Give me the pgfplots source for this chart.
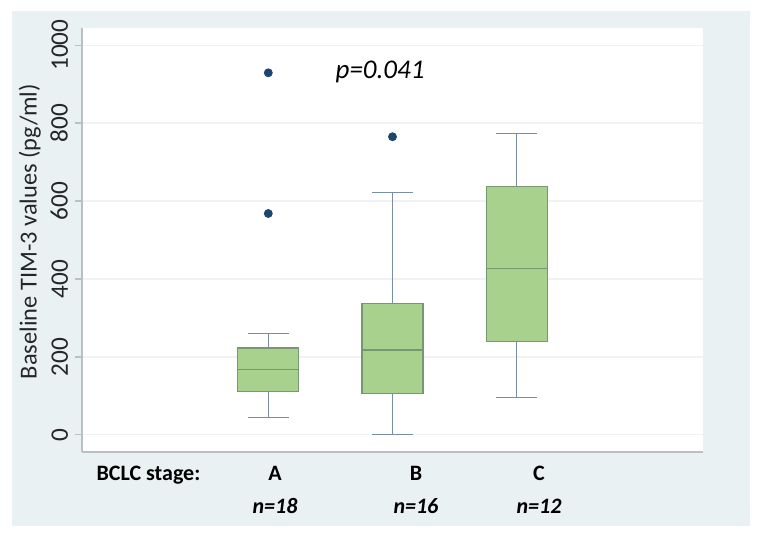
\documentclass[border=0pt]{standalone}
\usepackage{fontspec}
\setmainfont{Carlito}
\usepackage{pgfplots}
\pgfplotsset{compat=1.18}
\usepgfplotslibrary{statistics}
\usetikzlibrary{calc,backgrounds}
\definecolor{panel}{HTML}{EAF1F3}
\definecolor{boxfill}{HTML}{A9D18E}
\definecolor{boxline}{HTML}{769770}
\definecolor{whisk}{HTML}{7A8DA6}
\definecolor{dot}{HTML}{1A476F}
\definecolor{gridc}{HTML}{F0F3F5}
\definecolor{axc}{HTML}{B9BFC3}

\begin{document}
\begin{tikzpicture}
\begin{axis}[
  scale only axis, width=310.5pt, height=212pt,
  xmin=-0.5, xmax=4.5, ymin=-44, ymax=1044,
  clip=false,
  axis x line*=bottom, axis y line*=left,
  axis line style={draw=axc, line width=0.7pt, -},
  axis background/.style={fill=white},
  ytick={0,200,...,1000},
  ymajorgrids, grid style={gridc, line width=0.6pt},
  tick align=outside, major tick length=3.5pt,
  ytick style={draw=axc, line width=0.6pt},
  xtick=\empty,
  /pgf/number format/assume math mode=true,
  /pgf/number format/set thousands separator={},
  yticklabel style={rotate=90, anchor=south, font=\fontsize{12.6}{15}\selectfont, text=black!85},
  ylabel={Baseline TIM-3 values (pg/ml)},
  ylabel style={at={(axis description cs:-0.073,0.52)}, anchor=base, font=\fontsize{12.2}{15}\selectfont, text=black!85},
  boxplot/draw direction=y,
  boxplot/box extend=0.49,
  boxplot/every box/.style={fill=boxfill, draw=boxline, line width=0.6pt},
  boxplot/every median/.style={draw=boxline, line width=0.6pt},
  boxplot/every whisker/.style={draw=whisk, line width=0.55pt},
]
% stage A
\addplot[draw=whisk, mark=*, mark size=2pt, mark options={draw=dot, fill=dot},
  boxplot prepared={draw position=1, lower whisker=44, lower quartile=111,
    median=168, upper quartile=223, upper whisker=261, whisker extend=0.33}]
  table[row sep=\\, y index=0] {data\\ 929\\ 568\\};
% stage B
\addplot[draw=whisk, mark=*, mark size=2pt, mark options={draw=dot, fill=dot},
  boxplot prepared={draw position=2, lower whisker=1, lower quartile=107,
    median=218, upper quartile=338, upper whisker=621, whisker extend=0.33}]
  table[row sep=\\, y index=0] {data\\ 765\\};
% stage C
\addplot[draw=whisk,
  boxplot prepared={draw position=3, lower whisker=97, lower quartile=239,
    median=427, upper quartile=638, upper whisker=774, whisker extend=0.33}]
  coordinates {};

\node[font=\itshape\fontsize{13.5}{16}\selectfont] at (axis cs:1.9,931) {p=0.041};

\node[anchor=base, font=\bfseries\fontsize{11}{13}\selectfont] at (axis cs:0.035,-118) {BCLC stage:};
\node[anchor=base, font=\bfseries\fontsize{11}{13}\selectfont] at (axis cs:1.054,-118) {A};
\node[anchor=base, font=\bfseries\fontsize{11}{13}\selectfont] at (axis cs:2.189,-118) {B};
\node[anchor=base, font=\bfseries\fontsize{11}{13}\selectfont] at (axis cs:3.18,-118) {C};
\node[anchor=base, font=\bfseries\itshape\fontsize{11}{13}\selectfont] at (axis cs:1.054,-203) {n=18};
\node[anchor=base, font=\bfseries\itshape\fontsize{11}{13}\selectfont] at (axis cs:2.189,-203) {n=16};
\node[anchor=base, font=\bfseries\itshape\fontsize{11}{13}\selectfont] at (axis cs:3.18,-203) {n=12};

\coordinate (sw) at (rel axis cs:0,0);
\coordinate (ne) at (rel axis cs:1,1);
\end{axis}
\begin{scope}[on background layer]
  \fill[panel] ($(sw)+(-35pt,-37pt)$) rectangle ($(ne)+(23.5pt,8.5pt)$);
\end{scope}
\pgfresetboundingbox
\path[use as bounding box] ($(sw)+(-41pt,-42pt)$) rectangle ($(ne)+(28pt,14pt)$);
\end{tikzpicture}
\end{document}
